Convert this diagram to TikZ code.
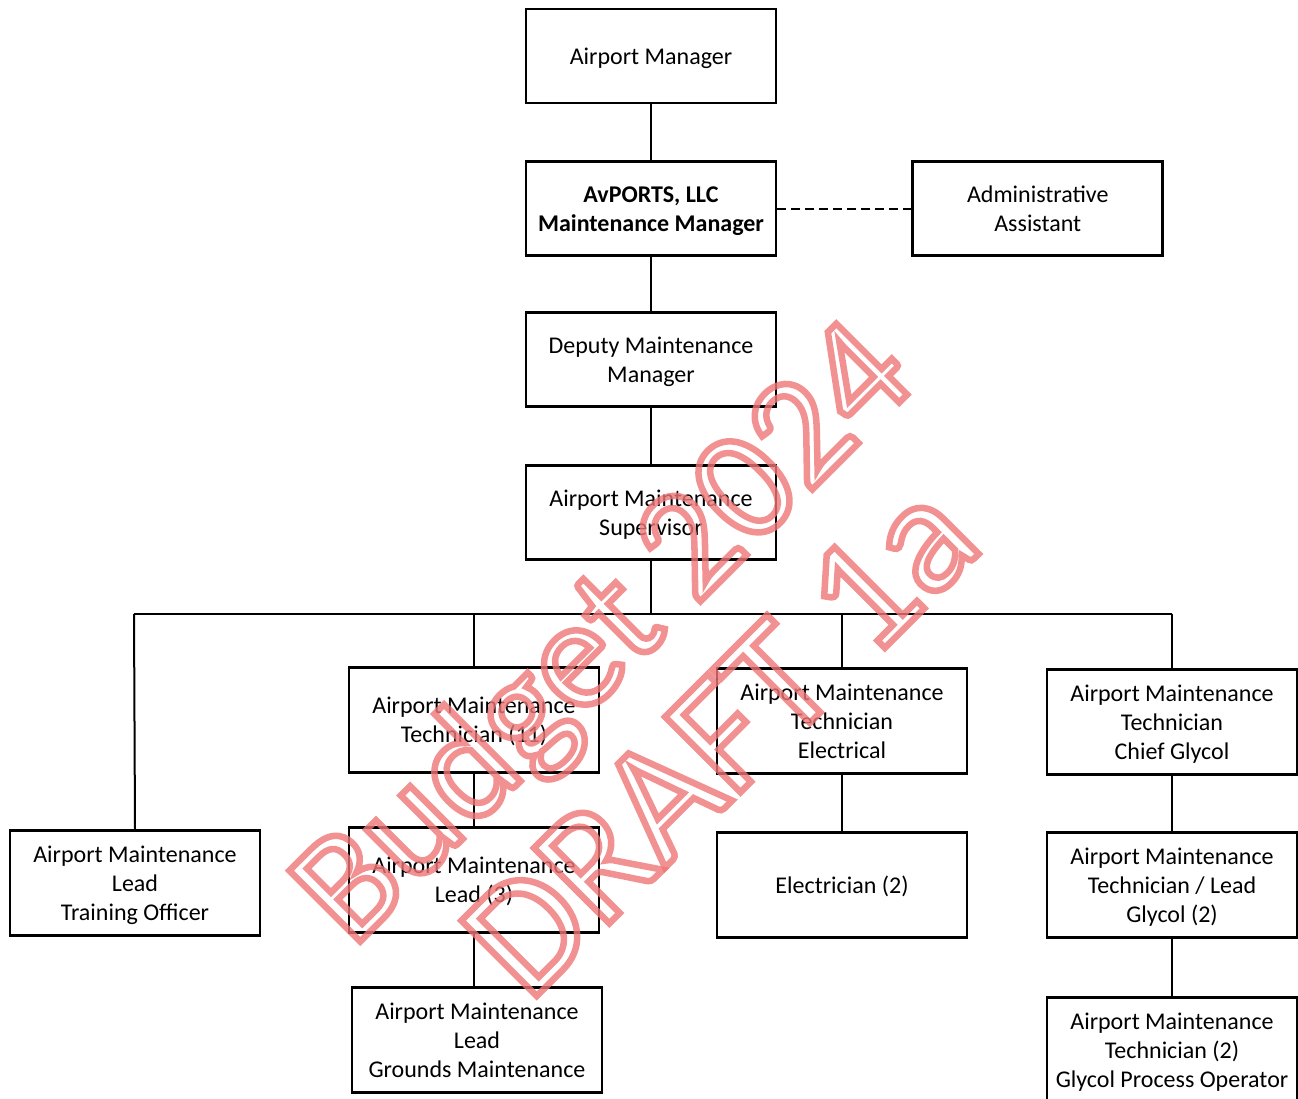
\documentclass[tikz,border=0pt]{standalone}
\usepackage{fontspec}
\setmainfont{Carlito}
\usetikzlibrary{positioning}
\definecolor{stampred}{RGB}{238,118,118}
\newcommand{\outlined}[1]{\special{pdf:literal direct 1 Tr 6.5 w}#1\special{pdf:literal direct 0 Tr}}

\begin{document}
\begin{tikzpicture}[x=1pt, y=-1pt,
        box/.style={rectangle, draw, line width=2.8pt, minimum width=250pt, minimum height=94pt, inner sep=2pt, text depth=-4pt, align=center, font=\fontsize{24}{29}\selectfont},
        tall/.style={box, minimum height=105pt},
        link/.style={line width=2pt},
        stamp/.style={text=stampred, opacity=.8, rotate=45, inner sep=0pt}
    ]
        \clip (0,0) rectangle (1298,1099);
        \useasboundingbox (0,0) rectangle (1298,1099);

        % Top of the chart
        \node[box] (apm) at (651,56) {Airport Manager};
        \node[box, below=56pt of apm, font=\fontsize{24}{29}\selectfont\bfseries] (avp) {AvPORTS, LLC\\Maintenance Manager};
        \node[box, right=134pt of avp] (asst) {Administrative\\Assistant};
        \node[box, below=54pt of avp] (dmm) {Deputy Maintenance\\Manager};
        \node[box, below=56pt of dmm] (sup) {Airport Maintenance\\Supervisor};

        % Bus
        \coordinate (busL) at (134,614);
        \coordinate (busR) at (1172,614);

        % Lower boxes
        \node[tall] (tech) at (474,720) {Airport Maintenance\\Technician (11)};
        \node[tall] (elec) at (842,721) {Airport Maintenance\\Technician\\Electrical};
        \node[tall] (chief) at (1172,722) {Airport Maintenance\\Technician\\Chief Glycol};
        \node[tall] (train) at (135,883) {Airport Maintenance\\Lead\\Training Officer};
        \node[tall] (lead) at (474,880) {Airport Maintenance\\Lead (3)};
        \node[tall] (elctn) at (842,885) {Electrician (2)};
        \node[tall] (glead) at (1172,885) {Airport Maintenance\\Technician / Lead\\Glycol (2)};
        \node[tall] (gmnt) at (477,1040) {Airport Maintenance\\Lead\\Grounds Maintenance};
        \node[tall] (gpo) at (1172,1050) {Airport Maintenance\\Technician (2)\\Glycol Process Operator};

        % Connectors
        \draw[link] (apm) -- (avp);
        \draw[link, line width=2.4pt, dash pattern=on 9pt off 5pt] (avp) -- (asst);
        \draw[link] (avp) -- (dmm);
        \draw[link] (dmm) -- (sup);
        \draw[link] (sup.south) -- (sup.south |- busL);
        \draw[link] (busL) -- (busR);
        \draw[link] (busL) -- (train.north);
        \draw[link] (tech.north |- busL) -- (tech.north);
        \draw[link] (elec.north |- busL) -- (elec.north);
        \draw[link] (busR) -- (chief.north);
        \draw[link] (tech) -- (lead);
        \draw[link] (lead.south) -- (lead.south |- gmnt.north);
        \draw[link] (elec) -- (elctn);
        \draw[link] (chief) -- (glead);
        \draw[link] (glead) -- (gpo);

        % Watermark
        \node[stamp, font=\fontsize{156}{156}\selectfont] (wmA) at (607,637) {\outlined{Budget 2024}};
        \node[stamp, font=\fontsize{166}{166}\selectfont] (wmB) at (720,738) {\outlined{DRAFT 1a}};
    \end{tikzpicture}
\end{document}
